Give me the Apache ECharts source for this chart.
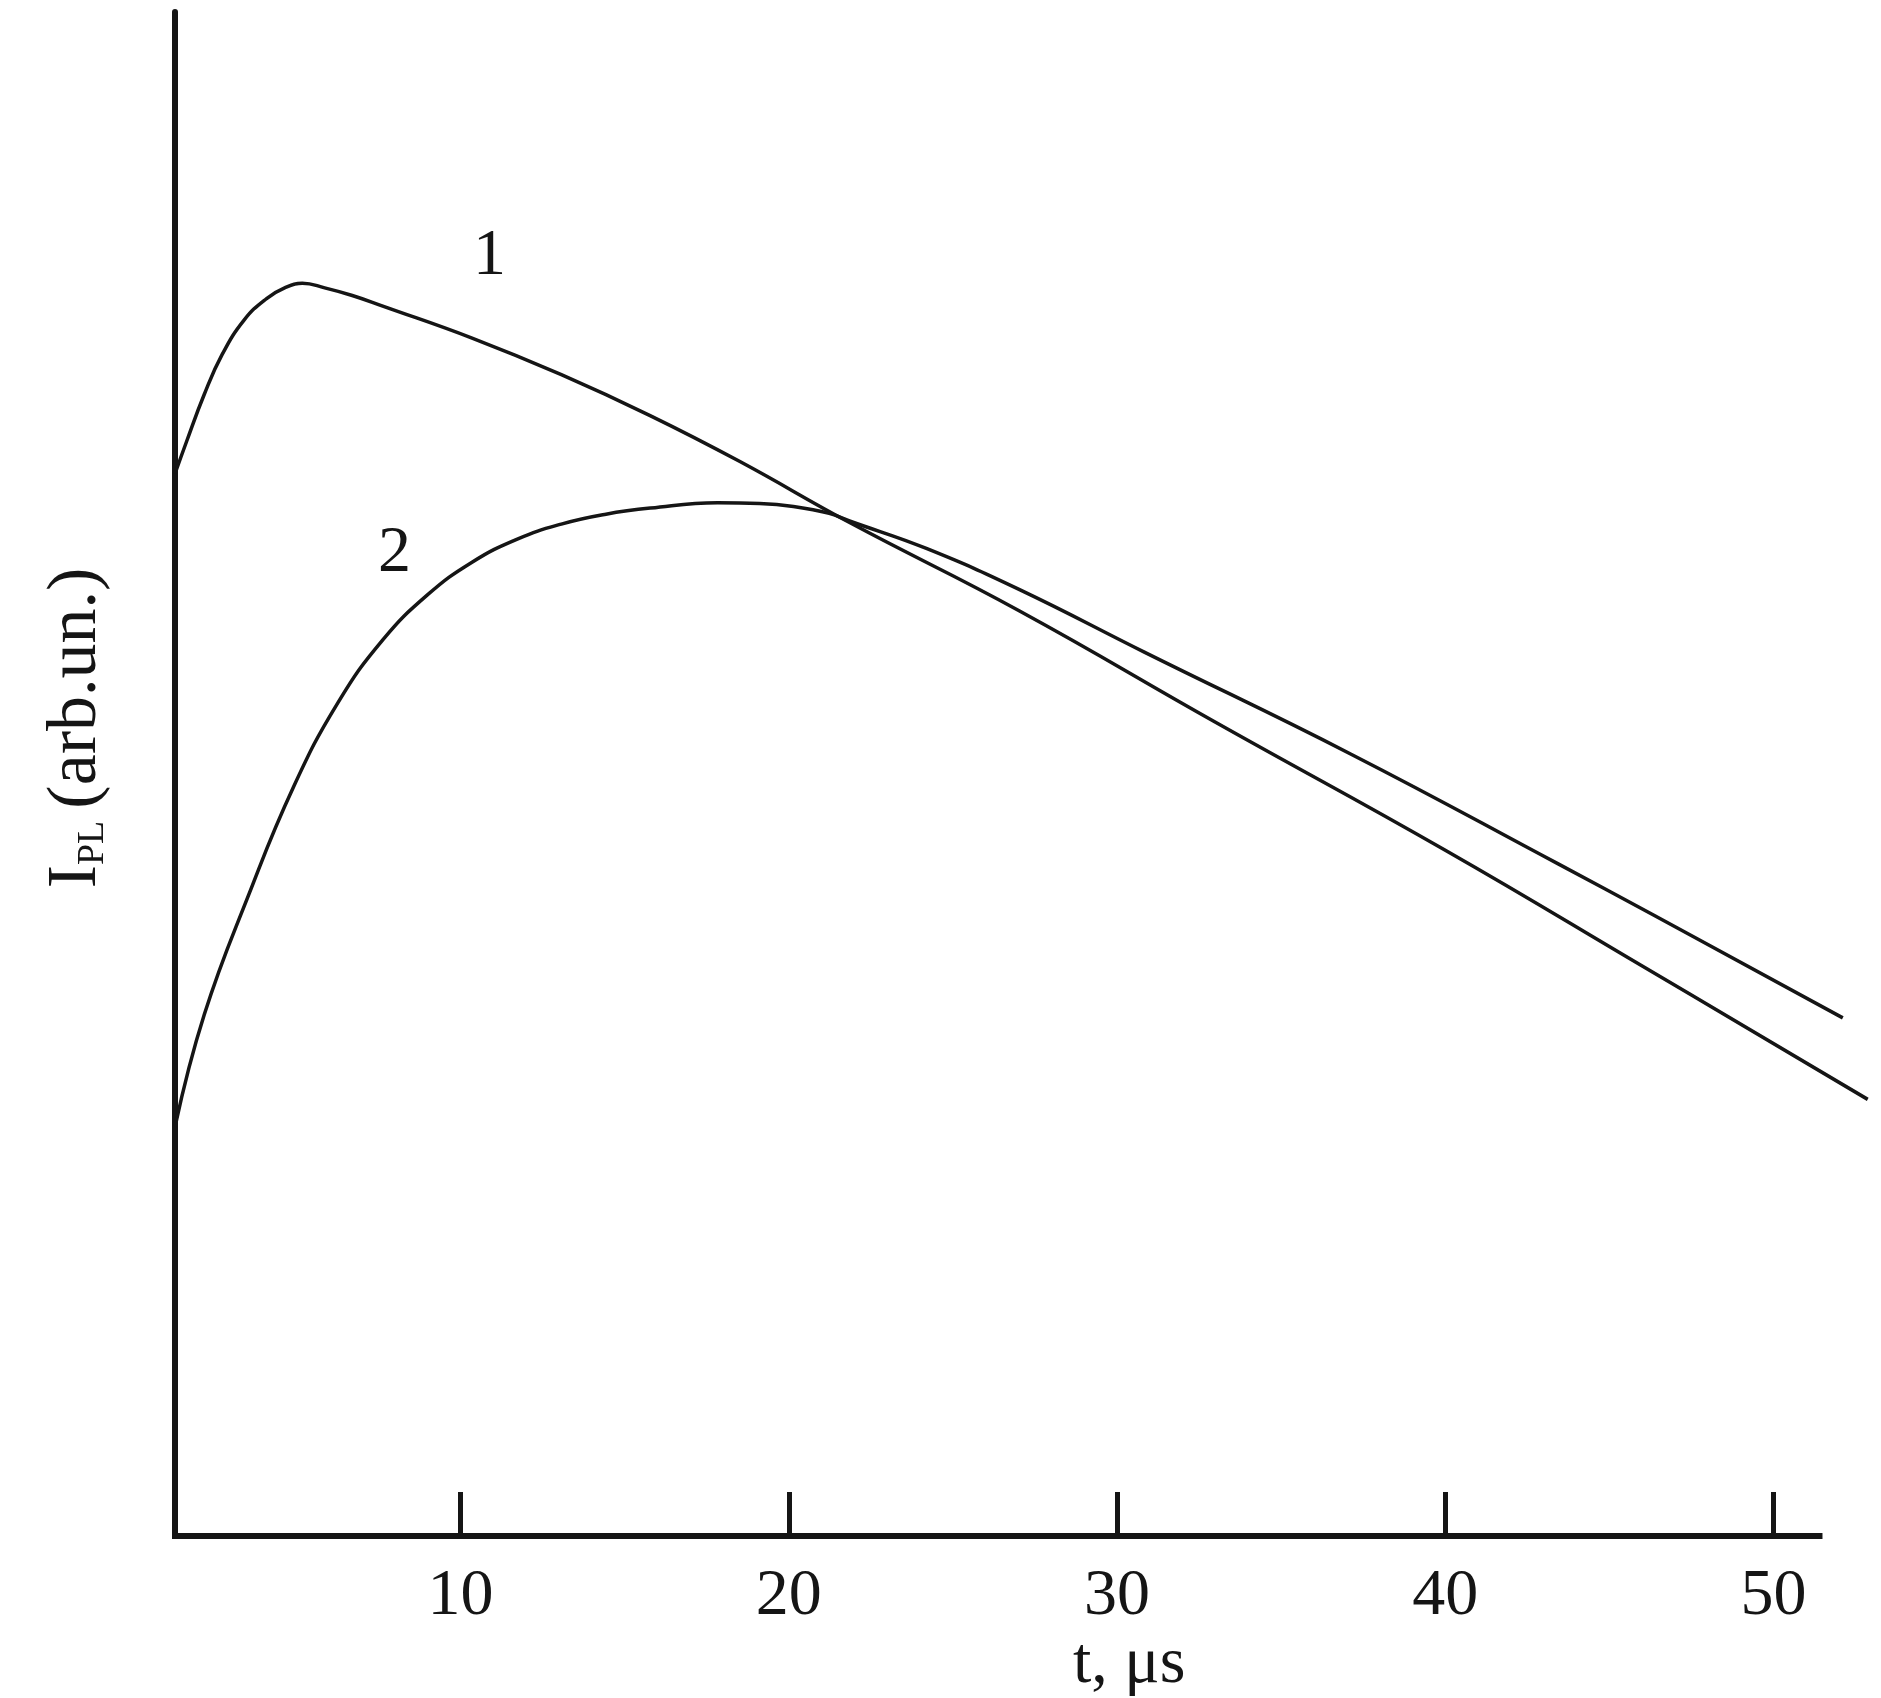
<!DOCTYPE html>
<html>
<head>
<meta charset="utf-8">
<title>I_PL(t)</title>
<script src="https://cdn.jsdelivr.net/npm/echarts@6.0.0/dist/echarts.min.js"></script>
<style>
  html, body { margin: 0; padding: 0; background: #fff; }
  #chart { width: 1881px; height: 1698px; }
</style>
</head>
<body>
<div id="chart"></div>
<script>
  // time axis, microseconds
  const tickValues = [10, 20, 30, 40, 50];
  const axisStart = 1.3;   // where the drawn time axis begins
  const axisEnd = 51.4;    // and where its line stops (curves run a bit further)

  // curve 1 (arbitrary units)
  const t1 = [1.3, 1.65, 2.19, 2.73, 3.41, 4.09, 4.64, 5.18, 5.86, 6.7, 7.63, 10.35, 13.07, 15.79, 18.51, 21.85, 27.03, 33, 40, 46, 52.87];
  const v1 = [69.7, 71.8, 74.9, 77.5, 79.8, 81.2, 81.9, 82.2, 81.9, 81.4, 80.7, 78.6, 76.2, 73.5, 70.5, 66.5, 60.7, 53.4, 45.0, 37.4, 28.65];

  // curve 2
  const t2 = [1.3, 2.19, 3.55, 4.91, 6.27, 7.63, 8.99, 10.35, 11.71, 13.07, 14.43, 15.79, 17.83, 19.11, 20.14, 21.23, 21.85, 24.19, 27.03, 30.83, 37.13, 43.44, 46.3, 52.11];
  const v2 = [26.85, 34.2, 42.1, 49.15, 54.7, 58.8, 61.75, 63.9, 65.4, 66.4, 67.05, 67.45, 67.8, 67.75, 67.55, 67.1, 66.6, 64.8, 62.1, 58.0, 51.3, 44.1, 40.8, 34.0];

  // where the curve numbers sit (data coords)
  const label1 = [10.88, 83.97];
  const label2 = [7.99, 64.45];

  const font = '"Liberation Serif", "DejaVu Serif", serif';
  const ink = '#151515';

  const zip = (xs, ys) => xs.map((x, i) => [x, ys[i]]);

  const curve = (name, data, pos) => ({
    name: name,
    type: 'line',
    data: data,
    symbol: 'none',
    smooth: 0.45,
    clip: false,
    lineStyle: { color: ink, width: 3.5 },
    markPoint: {
      symbol: 'circle',
      symbolSize: 0,
      label: { show: true, formatter: name, fontFamily: font, fontSize: 66, color: ink },
      data: [{ coord: pos }]
    }
  });

  const chart = echarts.init(document.getElementById('chart'));
  const option = {
    backgroundColor: '#fff',
    animation: false,
    grid: {
      left: 175,
      top: 12,
      right: 9,
      bottom: 162,
      containLabel: false,
      outerBoundsMode: 'none'
    },
    xAxis: {
      type: 'value',
      min: axisStart,
      max: 53,
      axisLine: { show: false },
      axisTick: {
        show: true,
        inside: true,
        length: 44,
        customValues: tickValues,
        lineStyle: { color: ink, width: 5 }
      },
      axisLabel: {
        show: true,
        customValues: tickValues,
        margin: 28,
        fontFamily: font,
        fontSize: 66,
        color: ink
      },
      splitLine: { show: false }
    },
    yAxis: {
      type: 'value',
      min: 0,
      max: 100,
      axisLine: { show: true, lineStyle: { color: ink, width: 6 } },
      axisTick: { show: false },
      axisLabel: { show: false },
      splitLine: { show: false }
    },
    graphic: [
      {
        type: 'text',
        left: 1073,
        top: 1632,
        style: {
          text: 't, μs',
          font: '66px ' + font,
          fill: ink
        }
      },
      {
        type: 'text',
        x: 72,
        y: 728,
        rotation: Math.PI / 2,
        style: {
          text: '{i|I}{sub|PL}{t|(arb.un.)}',
          align: 'center',
          verticalAlign: 'middle',
          rich: {
            i: { fontFamily: font, fontSize: 70, fill: ink, lineHeight: 80, verticalAlign: 'bottom' },
            sub: { fontFamily: font, fontSize: 38, fill: ink, lineHeight: 80, verticalAlign: 'bottom', padding: [0, 12, 0, 0] },
            t: { fontFamily: font, fontSize: 70, fill: ink, lineHeight: 80, verticalAlign: 'bottom' }
          }
        }
      }
    ],
    series: [
      {
        // the time axis line, which stops short of the curve ends
        name: 'axis',
        type: 'line',
        data: [[axisStart, 0], [axisEnd, 0]],
        symbol: 'none',
        silent: true,
        clip: false,
        lineStyle: { color: ink, width: 6, cap: 'square' }
      },
      curve('1', zip(t1, v1), label1),
      curve('2', zip(t2, v2), label2)
    ]
  };
  chart.setOption(option);
</script>
</body>
</html>
